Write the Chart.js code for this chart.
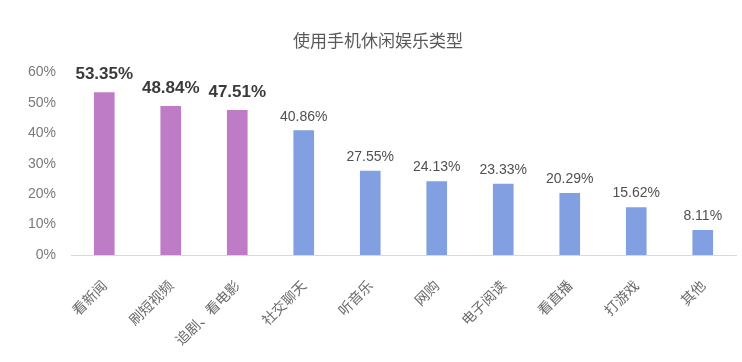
<!DOCTYPE html>
<html>
<head>
<meta charset="utf-8">
<script src="https://cdn.jsdelivr.net/npm/chart.js@4.4.1/dist/chart.umd.min.js"></script>
<style>
  html, body { margin: 0; padding: 0; background: #fff; }
  #wrap { width: 742px; height: 362px; }
</style>
</head>
<body>
<div id="wrap"><canvas id="leisureChart" width="742" height="362"></canvas></div>
<script>
const categories = ['看新闻', '刷短视频', '追剧、看电影', '社交聊天', '听音乐', '网购', '电子阅读', '看直播', '打游戏', '其他'];
const shares = [53.35, 48.84, 47.51, 40.86, 27.55, 24.13, 23.33, 20.29, 15.62, 8.11];
const highlightCount = 3; // first three bars are purple + bold label
const yTicks = [0, 10, 20, 30, 40, 50, 60];

const purple = '#BE7CC7';
const blue = '#829FE2';
const cjk = '"Noto Sans CJK SC", "Liberation Sans", sans-serif';

// draw value labels above each bar
const valueLabels = {
  id: 'valueLabels',
  afterDatasetsDraw(chart) {
    const ctx = chart.ctx;
    const meta = chart.getDatasetMeta(0);
    ctx.save();
    ctx.textAlign = 'center';
    ctx.textBaseline = 'middle';
    meta.data.forEach((bar, i) => {
      const big = i < highlightCount;
      ctx.font = big ? 'bold 17px "Liberation Sans", Arial, sans-serif' : '14px "Liberation Sans", Arial, sans-serif';
      ctx.fillStyle = big ? '#3a3a3a' : '#505050';
      ctx.fillText(shares[i].toFixed(2) + '%', bar.x, bar.y - (big ? 18 : 14));
    });
    ctx.restore();
  }
};

new Chart(document.getElementById('leisureChart'), {
  type: 'bar',
  data: {
    labels: categories,
    datasets: [{
      data: shares,
      backgroundColor: shares.map((v, i) => i < highlightCount ? purple : blue),
      barThickness: 20
    }]
  },
  options: {
    responsive: false,
    animation: false,
    layout: { padding: { left: 20, right: 6, top: 0, bottom: 0 } },
    plugins: {
      legend: { display: false },
      tooltip: { enabled: false },
      title: {
        display: true,
        text: '使用手机休闲娱乐类型',
        color: '#595959',
        font: { family: cjk, size: 17, weight: 'normal' },
        padding: { top: 30, bottom: 22 }
      }
    },
    scales: {
      y: {
        min: 0,
        max: 60,
        afterBuildTicks: scale => { scale.ticks = yTicks.map(v => ({ value: v })); },
        afterFit: scale => { scale.width = 51; },
        grid: { display: false, drawTicks: false },
        border: { display: false },
        ticks: {
          padding: 15,
          color: '#7a7a7a',
          font: { family: '"Liberation Sans", Arial, sans-serif', size: 14 },
          callback: v => v + '%'
        }
      },
      x: {
        afterFit: scale => { scale.height = 107; },
        grid: { display: false, drawTicks: false },
        border: { display: true, color: '#d9d9d9', width: 1 },
        ticks: {
          maxRotation: 45,
          minRotation: 45,
          autoSkip: false,
          padding: 22,
          color: '#6a6a6a',
          font: { family: cjk, size: 14 }
        }
      }
    }
  },
  plugins: [valueLabels]
});
</script>
</body>
</html>
